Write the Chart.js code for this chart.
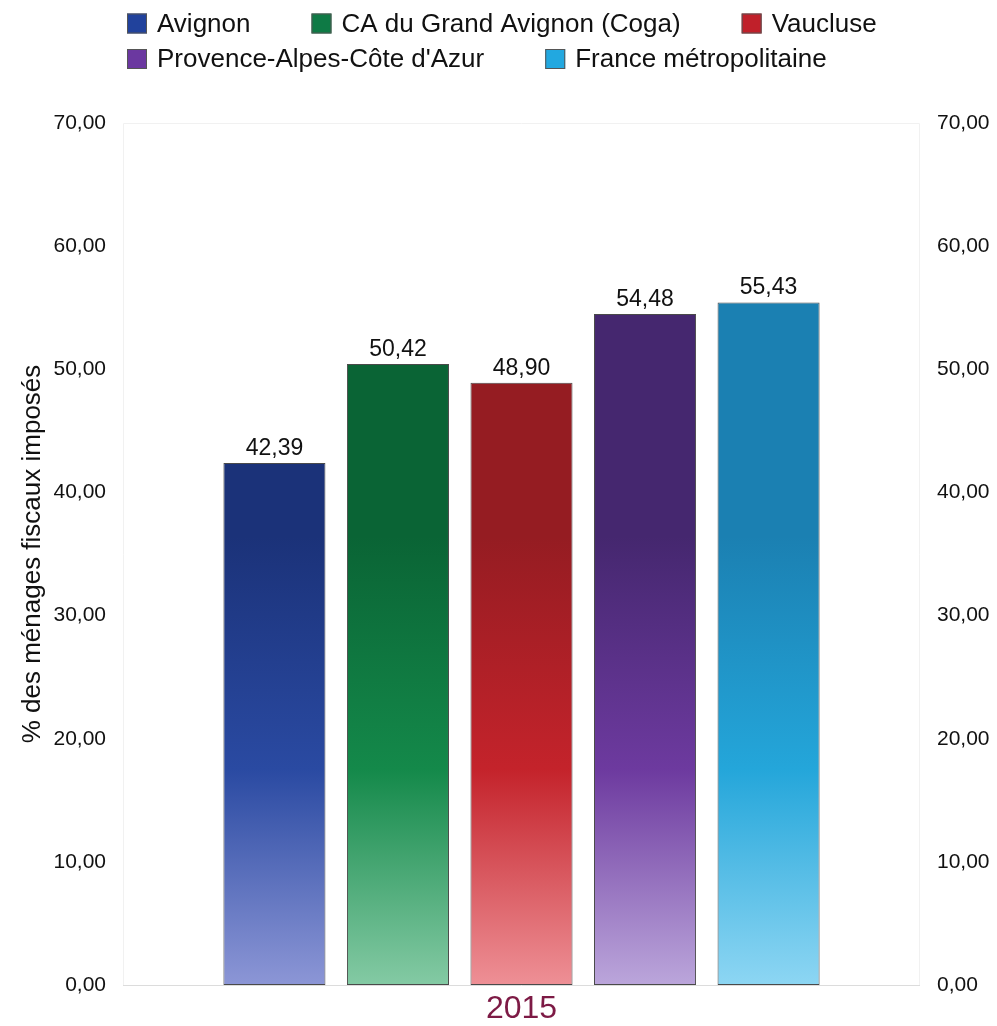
<!DOCTYPE html>
<html>
<head>
<meta charset="utf-8">
<script src="https://cdn.jsdelivr.net/npm/chart.js@4.4.1/dist/chart.umd.min.js"></script>
<style>
  html, body { margin: 0; padding: 0; background: #ffffff; }
  #wrap { width: 997px; height: 1026px; position: relative; }
</style>
</head>
<body>
<div id="wrap"><canvas id="c" width="997" height="1026"></canvas></div>
<script>
// ---- data ----
const categories = ['2015'];
const seriesNames = ['Avignon', 'CA du Grand Avignon (Coga)', 'Vaucluse', 'Provence-Alpes-Côte d\'Azur', 'France métropolitaine'];
const avignon = [42.39];
const coga = [50.42];
const vaucluse = [48.90];
const paca = [54.48];
const france = [55.43];
const yTicks = [0, 10, 20, 30, 40, 50, 60, 70];
const yTitle = '% des ménages fiscaux imposés';

// ---- styles ----
const FONT = '"Liberation Sans", Arial, sans-serif';
const palettes = [
  { dark: '#1b3279', mid: '#2a4aa2', light: '#8c96d6', legend: '#21429c' },
  { dark: '#0a6435', mid: '#14894a', light: '#84caa4', legend: '#0e7a45' },
  { dark: '#951c22', mid: '#c4232b', light: '#ee9096', legend: '#c0202a' },
  { dark: '#45276f', mid: '#6d3a9f', light: '#bba6db', legend: '#6b38a0' },
  { dark: '#1b80b2', mid: '#24a6da', light: '#8dd6f3', legend: '#22a8e0' }
];
const values = [avignon, coga, vaucluse, paca, france];

function makeGradient(ctx, area, p) {
  const g = ctx.createLinearGradient(0, area.top, 0, area.bottom);
  g.addColorStop(0, p.dark);
  g.addColorStop(0.48, p.dark);
  g.addColorStop(0.75, p.mid);
  g.addColorStop(1, p.light);
  return g;
}

const datasets = values.map((v, i) => ({
  label: seriesNames[i],
  data: v,
  backgroundColor: (context) => {
    const chart = context.chart;
    const area = chart.chartArea;
    if (!area) return palettes[i].mid;
    return makeGradient(chart.ctx, area, palettes[i]);
  },
  borderColor: '#4a4a4a',
  borderWidth: 1,
  borderSkipped: false,
  barPercentage: 0.826,
  categoryPercentage: 0.775
}));

function fmt(v) { return v.toFixed(2).replace('.', ','); }

// custom legend at fixed layout
const legendPlugin = {
  id: 'customLegend',
  afterDraw(chart) {
    const ctx = chart.ctx;
    ctx.save();
    ctx.font = '26px ' + FONT;
    ctx.textBaseline = 'middle';
    ctx.textAlign = 'left';
    const rows = [[0, 1, 2], [3, 4]];
    const rowY = [23.5, 59];
    rows.forEach((row, r) => {
      let x = 127;
      row.forEach(idx => {
        const y = rowY[r];
        ctx.fillStyle = palettes[idx].legend;
        ctx.fillRect(x, y - 10, 20, 20);
        ctx.strokeStyle = '#555';
        ctx.lineWidth = 1;
        ctx.strokeRect(x + 0.5, y - 9.5, 19, 19);
        ctx.fillStyle = '#111';
        const name = chart.data.datasets[idx].label;
        ctx.fillText(name, x + 30, y + 1);
        x += 30 + ctx.measureText(name).width + 61;
      });
    });
    ctx.restore();
  }
};

const valueLabels = {
  id: 'valueLabels',
  afterDatasetsDraw(chart) {
    const ctx = chart.ctx;
    ctx.save();
    ctx.font = '23px ' + FONT;
    ctx.fillStyle = '#111';
    ctx.textAlign = 'center';
    ctx.textBaseline = 'bottom';
    chart.data.datasets.forEach((ds, di) => {
      const meta = chart.getDatasetMeta(di);
      meta.data.forEach((bar, j) => {
        ctx.fillText(fmt(ds.data[j]), bar.x, bar.y - 3);
      });
    });
    ctx.restore();
  }
};

const frame = {
  id: 'frame',
  beforeDatasetsDraw(chart) {
    const a = chart.chartArea;
    const ctx = chart.ctx;
    ctx.save();
    ctx.strokeStyle = '#f1f1f1';
    ctx.lineWidth = 1;
    ctx.beginPath();
    ctx.moveTo(a.left + 0.5, a.bottom);
    ctx.lineTo(a.left + 0.5, a.top + 0.5);
    ctx.lineTo(a.right - 0.5, a.top + 0.5);
    ctx.lineTo(a.right - 0.5, a.bottom);
    ctx.stroke();
    ctx.strokeStyle = '#dcdcdc';
    ctx.beginPath();
    ctx.moveTo(a.left, a.bottom + 0.5);
    ctx.lineTo(a.right, a.bottom + 0.5);
    ctx.stroke();
    ctx.restore();
  }
};

new Chart(document.getElementById('c'), {
  type: 'bar',
  data: { labels: categories, datasets: datasets },
  options: {
    responsive: false,
    animation: false,
    devicePixelRatio: 1,
    layout: { padding: { top: 123, left: 0, right: 0, bottom: 0 } },
    plugins: {
      legend: { display: false },
      tooltip: { enabled: false },
      title: { display: false }
    },
    scales: {
      x: {
        grid: { display: false, drawTicks: false },
        border: { display: false },
        ticks: { color: '#7d1a45', font: { family: FONT, size: 32 }, padding: 5 },
        afterFit(s) { s.height = 41; }
      },
      y: {
        position: 'left',
        min: 0, max: 70,
        afterBuildTicks(s) { s.ticks = yTicks.map(v => ({ value: v })); },
        grid: { display: false, drawTicks: false },
        border: { display: false },
        ticks: { color: '#111', font: { family: FONT, size: 21 }, padding: 17, callback: v => fmt(v) },
        title: { display: true, text: yTitle, color: '#111', font: { family: FONT, size: 26 }, padding: { top: 17, bottom: 0 } },
        afterFit(s) { s.width = 123; }
      },
      y2: {
        position: 'right',
        min: 0, max: 70,
        afterBuildTicks(s) { s.ticks = yTicks.map(v => ({ value: v })); },
        grid: { display: false, drawTicks: false },
        border: { display: false },
        ticks: { color: '#111', font: { family: FONT, size: 21 }, padding: 17, callback: v => fmt(v) },
        afterFit(s) { s.width = 77; }
      }
    }
  },
  plugins: [frame, valueLabels, legendPlugin]
});
</script>
</body>
</html>
